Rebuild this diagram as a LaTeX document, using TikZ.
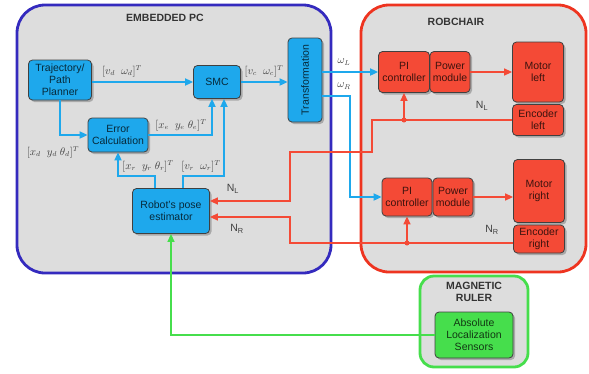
\documentclass[tikz,border=0pt]{standalone}
\usepackage{fontspec}
\setmainfont{Liberation Sans}
\usepackage{graphicx}
\usetikzlibrary{arrows.meta, shadows}

\definecolor{pcblue}{RGB}{30,168,236}
\definecolor{pcframe}{RGB}{52,42,190}
\definecolor{rcred}{RGB}{244,74,54}
\definecolor{rcframe}{RGB}{238,52,32}
\definecolor{mrgreen}{RGB}{70,222,76}
\definecolor{boxgray}{RGB}{221,221,221}

\tikzset{
  panel/.style={rounded corners=28pt, fill=boxgray, line width=2.8pt},
  block/.style={draw=black!75, line width=0.8pt, rounded corners=4pt, align=center,
    inner sep=1pt, drop shadow={shadow xshift=2pt, shadow yshift=-2pt, opacity=0.55},
    font=\fontsize{10.5}{12}\selectfont},
  bluebox/.style={block, fill=pcblue, text=pcblue!25!black},
  redbox/.style={block, fill=rcred, text=rcred!25!black},
  greenbox/.style={block, fill=mrgreen, text=mrgreen!25!black},
  title/.style={font=\fontsize{10.5}{11.5}\selectfont\bfseries, text=black!80, align=center},
  sig/.style={font=\fontsize{10.5}{11}\selectfont, text=black!75},
  bline/.style={draw=pcblue, line width=1.8pt, -{Triangle[length=8pt,width=7pt]}},
  rline/.style={draw=rcred, line width=1.5pt, -{Triangle[length=8pt,width=7pt]}},
  gline/.style={draw=mrgreen, line width=1.5pt, -{Triangle[length=8pt,width=7pt]}},
}

\begin{document}
\begin{tikzpicture}[x=1pt,y=-1pt]
\useasboundingbox (0,0) rectangle (589,373);

% frames
\draw[panel, draw=pcframe] (17,5) rectangle (331,273);
\draw[panel, draw=rcframe] (361,5) rectangle (586,272);
\draw[panel, draw=mrgreen, rounded corners=14pt] (420,276) rectangle (528,367);
\node[title] (pctitle) at (165,18) {EMBEDDED PC};
\node[title] (rctitle) at (456,22) {ROBCHAIR};
\node[title] (mrtitle) at (474,292) {MAGNETIC\\RULER};

% embedded pc
\node[bluebox, minimum width=63, minimum height=40] (plan) at (60,80) {Trajectory/\\Path\\Planner};
\node[bluebox, minimum width=47, minimum height=33] (smc) at (217,82) {SMC};
\node[bluebox, minimum width=34, minimum height=84] (trans) at (305,80) {\rotatebox{90}{Transformation}};
\node[bluebox, minimum width=60, minimum height=34] (err) at (118,135) {Error\\Calculation};
\node[bluebox, minimum width=77, minimum height=45] (pose) at (171,211) {Robot's pose\\estimator};

% robchair
\node[redbox, minimum width=51, minimum height=41] (pil) at (404,72) {PI\\controller};
\node[redbox, minimum width=40, minimum height=41] (pwl) at (450,72) {Power\\module};
\node[redbox, minimum width=51, minimum height=60] (motl) at (538,72) {Motor\\left};
\node[redbox, minimum width=51, minimum height=31] (encl) at (538,120) {Encoder\\left};
\node[redbox, minimum width=50, minimum height=38] (pir) at (407,197) {PI\\controller};
\node[redbox, minimum width=40, minimum height=38] (pwr) at (453,197) {Power\\module};
\node[redbox, minimum width=51, minimum height=63] (motr) at (539,191) {Motor\\right};
\node[redbox, minimum width=51, minimum height=28] (encr) at (539,239) {Encoder\\right};

% magnetic ruler
\node[greenbox, minimum width=78, minimum height=46] (sens) at (474,335) {Absolute\\Localization\\Sensors};

% blue signals
\draw[bline] (plan.east |- smc.west) -- (smc.west);
\node[sig] (vd) at (122,71) {$[v_d\;\;\omega_d]^T$};
\draw[bline] (smc.east) -- (smc.east -| trans.west);
\node[sig] (vc) at (264,71) {$[v_c\;\;\omega_c]^T$};
\draw[bline] (plan.south) |- (err.west);
\node[sig] (xd) at (53,152) {$[x_d\;\;y_d\;\theta_d]^T$};
\draw[bline] (err.east) -| ([xshift=-5pt]smc.south);
\node[sig] (xe) at (181,125) {$[x_e\;\;y_e\;\theta_e]^T$};
\draw[bline] ([xshift=-16pt]pose.north) -- ++(0,-12) -| (err.south);
\node[sig] (xr) at (148,166) {$[x_r\;\;y_r\;\theta_r]^T$};
\draw[bline] ([xshift=12pt]pose.north) -- ++(0,-12) -| ([xshift=7pt]smc.south);
\node[sig] (vr) at (201,166) {$[v_r\;\;\omega_r]^T$};
\draw[bline] (trans.east |- pil.west) -- (pil.west);
\node[sig] (wl) at (344,62) {$\omega_L$};
\coordinate (wrb) at (350,96);
\draw[bline] (trans.east |- wrb) -- (wrb) |- (pir.west);
\node[sig] (wr) at (344,86) {$\omega_R$};

% red signals
\draw[rline] (pwl.east) -- (pwl.east -| motl.west);
\draw[rline] (pwr.east) -- (pwr.east -| motr.west);
\coordinate (nl1) at (372,152);
\coordinate (nl2) at (290,201);
\draw[rline] (encl.west) -| (nl1) -| (nl2) -- (pose.east |- nl2);
\fill[rcred] (pil.south |- encl.west) circle (2.5);
\draw[rline] (pil.south |- encl.west) -- (pil.south);
\coordinate (nr1) at (290,217);
\draw[rline] ([yshift=-4pt]encr.west) -| (nr1) -- (pose.east |- nr1);
\fill[rcred] (pir.south |- encr.west) ++(0,4) circle (2.5);
\draw[rline] ([yshift=-4pt]pir.south |- encr.west) -- (pir.south);
\node[sig] (nl) at (233,189) {N$_\mathrm{L}$};
\node[sig] (nr) at (237,229) {N$_\mathrm{R}$};
\node[sig] (nl') at (482,106) {N$_\mathrm{L}$};
\node[sig] (nr') at (492,230) {N$_\mathrm{R}$};

% green signal
\draw[gline] (sens.west) -| (pose.south);
\end{tikzpicture}
\end{document}
